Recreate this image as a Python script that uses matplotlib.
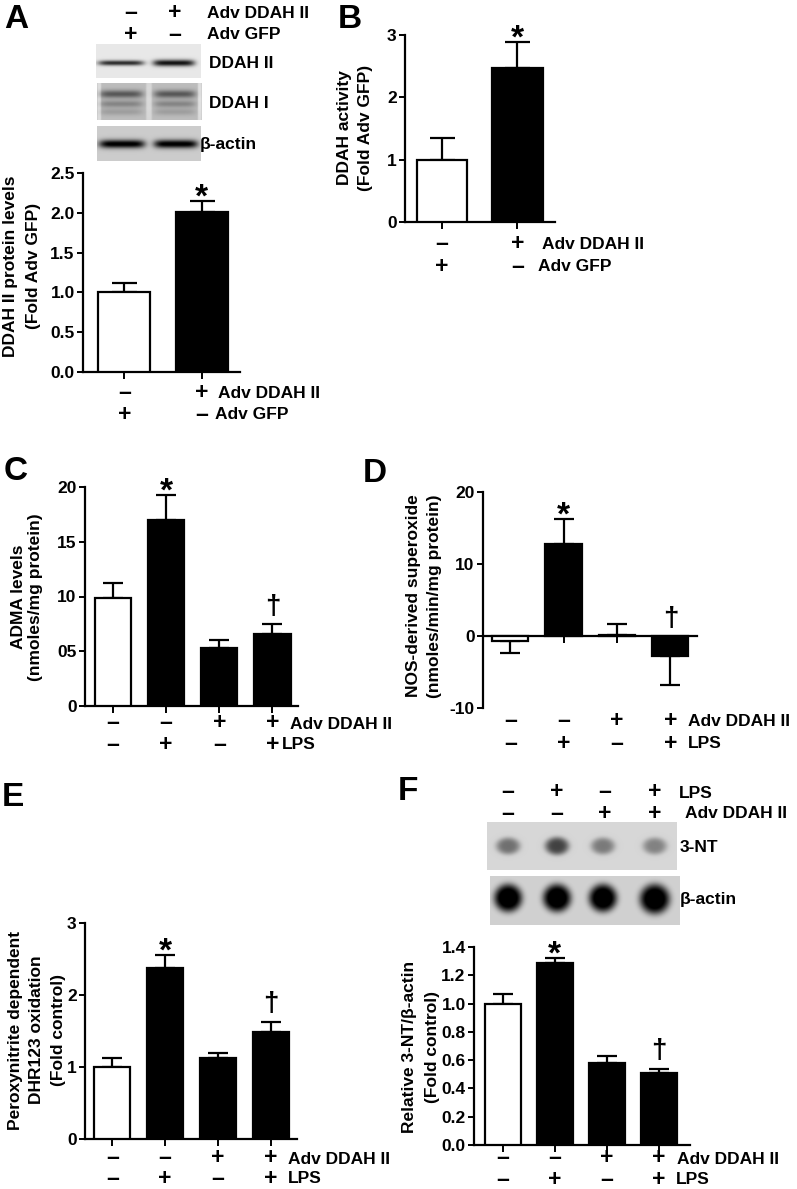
import numpy as np
import matplotlib
matplotlib.use('Agg')
import matplotlib.pyplot as plt
from matplotlib.font_manager import FontProperties

# ---------------- data ----------------
a_values = [1.0, 2.01]
a_errors = [0.12, 0.14]
a_marks = ['', '*']

b_values = [1.0, 2.47]
b_errors = [0.35, 0.41]
b_marks = ['', '*']

c_values = [9.85, 17.0, 5.3, 6.6]
c_errors = [1.4, 2.3, 0.75, 0.9]
c_marks = ['', '*', '', '†']

d_values = [-0.7, 12.8, 0.15, -2.8]
d_errors = [1.7, 3.4, 1.45, 4.0]
d_marks = ['', '*', '', '†']

e_values = [1.0, 2.38, 1.12, 1.48]
e_errors = [0.12, 0.18, 0.07, 0.15]
e_marks = ['', '*', '', '†']

f_values = [1.0, 1.29, 0.58, 0.51]
f_errors = [0.07, 0.03, 0.05, 0.03]
f_marks = ['', '*', '', '†']

two_ddah = ['–', '+']
two_gfp = ['+', '–']
four_ddah = ['–', '–', '+', '+']
four_lps = ['–', '+', '–', '+']

a_yticks = [0.0, 0.5, 1.0, 1.5, 2.0, 2.5]
a_yticklabels = ['0.0', '0.5', '1.0', '1.5', '2.0', '2.5']
b_yticks = [0, 1, 2, 3]
b_yticklabels = ['0', '1', '2', '3']
c_yticks = [0, 5, 10, 15, 20]
c_yticklabels = ['0', '05', '10', '15', '20']
d_yticks = [-10, 0, 10, 20]
d_yticklabels = ['-10', '0', '10', '20']
e_yticks = [0, 1, 2, 3]
e_yticklabels = ['0', '1', '2', '3']
f_yticks = [0.0, 0.2, 0.4, 0.6, 0.8, 1.0, 1.2, 1.4]
f_yticklabels = ['0.0', '0.2', '0.4', '0.6', '0.8', '1.0', '1.2', '1.4']

# ---------------- setup ----------------
W, H = 797, 1189
FAMILY = ['Liberation Sans', 'DejaVu Sans']
plt.rcParams['font.family'] = FAMILY
plt.rcParams['font.weight'] = 'bold'
fig = plt.figure(figsize=(W / 100, H / 100), dpi=100)
fig.patch.set_facecolor('white')
renderer = fig.canvas.get_renderer()

TICK_FS = 12.5
LAB_FS = 12.5
SIGN_FS = 16.5
LETTER_FS = 24
BASE_LS = 1.2


def px(fs):
    return fs * 100 / 72


def lp_metrics(fs):
    fp = FontProperties(family=FAMILY, weight='bold', size=fs)
    w, h, d = renderer.get_text_width_height_descent('lp', fp, ismath=False)
    return h, d


def fix_pitch(t, n_lines, target, fs, rotated=False):
    """adjust linespacing of multi-line text t (created with BASE_LS) so that
    the baseline pitch equals target pixels"""
    lp_h, lp_d = lp_metrics(fs)
    bb = t.get_window_extent(renderer)
    size = bb.width if rotated else bb.height
    pitch = (size - lp_h) / (n_lines - 1)
    if pitch > 0:
        t.set_linespacing(BASE_LS * target / pitch)


def make_axes(x0, x1, yt, yb):
    return fig.add_axes([x0 / W, 1 - yb / H, (x1 - x0) / W, (yb - yt) / H])


def ftext(x, y, s, **kw):
    kw.setdefault('fontweight', 'bold')
    kw.setdefault('linespacing', BASE_LS)
    return fig.text(x / W, 1 - y / H, s, **kw)


def ctext(x, y, s, fs, c_em=0.36, ha='left'):
    """place text so that the visual centre of its (last) line is at pixel y"""
    return ftext(x, y + c_em * px(fs), s, fontsize=fs, ha=ha, va='baseline')


def bar_panel(box, values, errors, marks, xlim, ylim, yticks, yticklabels,
              width, capsize, zero_axis=False):
    x0, x1, yt, yb = box
    ax = make_axes(x0, x1, yt, yb)
    xs = np.arange(len(values))
    colors = ['white'] + ['black'] * (len(values) - 1)
    ax.bar(xs, values, width=width, color=colors, edgecolor='black',
           linewidth=1.6, zorder=3)
    for xi, v, e in zip(xs, values, errors):
        yerr = [[0], [e]] if v >= 0 else [[e], [0]]
        ax.errorbar([xi], [v], yerr=yerr, fmt='none', ecolor='black',
                    elinewidth=1.6, capsize=capsize, capthick=1.6, zorder=2)
    for xi, v, e, m in zip(xs, values, errors, marks):
        if not m:
            continue
        top = v + e if v >= 0 else 0
        if m == '*':
            ax.annotate(m, (xi, top), xytext=(0, -9), textcoords='offset points',
                        ha='center', va='bottom', fontsize=24, fontweight='bold')
        else:
            ax.annotate(m, (xi, top), xytext=(0, 3), textcoords='offset points',
                        ha='center', va='bottom', fontsize=20, fontweight='bold')
    ax.set_xlim(*xlim)
    ax.set_ylim(*ylim)
    ax.set_yticks(yticks)
    ax.set_yticklabels(yticklabels, fontsize=TICK_FS, fontweight='bold')
    ax.set_xticks(xs)
    ax.set_xticklabels([])
    for s in ['top', 'right']:
        ax.spines[s].set_visible(False)
    for s in ['left', 'bottom']:
        ax.spines[s].set_linewidth(1.6)
    if zero_axis:
        ax.spines['bottom'].set_position(('data', 0))
    ax.tick_params(axis='y', direction='out', length=4, width=1.4, pad=2)
    ax.tick_params(axis='x', direction='out', length=5, width=1.4)
    ax.patch.set_alpha(0)
    return ax


def sign_cols(xpix_list, top, bottom, y1, y2, fs=SIGN_FS):
    """two rows of +/– signs, one two-line text per column;
    baseline alignment of a multi-line text refers to its last line"""
    for xp, s1, s2 in zip(xpix_list, top, bottom):
        t = ctext(xp, y2, s1 + '\n' + s2, fs, c_em=0.33, ha='center')
        fix_pitch(t, 2, y2 - y1, fs)


def ax_xpix(ax, box, n):
    x0, x1, yt, yb = box
    lo, hi = ax.get_xlim()
    return [x0 + (i - lo) / (hi - lo) * (x1 - x0) for i in range(n)]


def ylabel(xc, yc, s, pitch, fs=LAB_FS):
    t = ftext(xc, yc, s, fontsize=fs, rotation=90, ha='center', va='center',
              multialignment='center')
    fix_pitch(t, s.count('\n') + 1, pitch, fs, rotated=True)


def blot(x0, x1, yt, yb, bg, spots, kind='band'):
    ax = make_axes(x0, x1, yt, yb)
    nx, ny = int((x1 - x0) * 2), int((yb - yt) * 2)
    X, Y = np.meshgrid(np.linspace(x0, x1, nx), np.linspace(yt, yb, ny))
    img = np.full(X.shape, bg, dtype=float)
    for (xc, yc, hw, hh, depth) in spots:
        if kind == 'band':
            prof = np.exp(-((X - xc) / hw) ** 6) * np.exp(-((Y - yc) / hh) ** 2)
        else:
            prof = np.exp(-(((X - xc) / hw) ** 2 + ((Y - yc) / hh) ** 2) ** 2)
        img -= depth * prof
    img = np.clip(img, 0, 1)
    ax.imshow(img, cmap='gray', vmin=0, vmax=1, extent=(x0, x1, yb, yt),
              aspect='auto', interpolation='bilinear')
    ax.set_axis_off()
    return ax


# ---------------- Panel A ----------------
ftext(4, 19, 'A', fontsize=LETTER_FS, ha='left', va='center')
sign_cols([131, 175], two_ddah, two_gfp, 12, 33)
ctext(207, 12, 'Adv DDAH II', LAB_FS)
ctext(207, 33, 'Adv GFP', LAB_FS)

blot(96, 201, 44, 78, 0.91,
     [(121, 63, 23, 2.6, 0.75), (174, 63, 21, 3.3, 0.85)])
blot(97, 202, 83, 120, 0.74,
     [(121, 94, 22, 4.0, 0.40), (175, 94, 21, 4.0, 0.40),
      (121, 104, 22, 3.5, 0.22), (175, 104, 21, 3.5, 0.22),
      (121, 112, 22, 3.5, 0.12), (175, 112, 21, 3.5, 0.12),
      (149, 101, 3, 40, -0.12), (99, 101, 2, 40, -0.15), (200, 101, 2, 40, -0.15)])
blot(97, 201, 126, 161, 0.80,
     [(122, 144, 23, 4.2, 0.85), (176, 144, 22, 4.2, 0.85)])
ctext(209, 62, 'DDAH II', LAB_FS)
ctext(209, 102, 'DDAH I', LAB_FS)
ctext(200, 143, 'β-actin', LAB_FS)

boxA = (83, 240, 173, 372)
axA = bar_panel(boxA, a_values, a_errors, a_marks, (-0.53, 1.49), (0, 2.5),
                a_yticks, a_yticklabels, width=0.67, capsize=9)
ylabel(22, 266, 'DDAH II protein levels\n(Fold Adv GFP)', 23)
sign_cols(ax_xpix(axA, boxA, 2), two_ddah, two_gfp, 392, 413)
ctext(218, 392, 'Adv DDAH II', LAB_FS)
ctext(215, 413, 'Adv GFP', LAB_FS)

# ---------------- Panel B ----------------
ftext(338, 20, 'B', fontsize=LETTER_FS, ha='left', va='center')
boxB = (405, 555, 35, 222)
axB = bar_panel(boxB, b_values, b_errors, b_marks, (-0.49, 1.5), (0, 3),
                b_yticks, b_yticklabels, width=0.67, capsize=9)
ylabel(355, 128, 'DDAH activity\n(Fold Adv GFP)', 21)
sign_cols(ax_xpix(axB, boxB, 2), two_ddah, two_gfp, 243, 265)
ctext(542, 243, 'Adv DDAH II', LAB_FS)
ctext(538, 265, 'Adv GFP', LAB_FS)

# ---------------- Panel C ----------------
ftext(4, 471, 'C', fontsize=LETTER_FS, ha='left', va='center')
boxC = (85, 298, 487, 706)
axC = bar_panel(boxC, c_values, c_errors, c_marks, (-0.52, 3.48), (0, 20),
                c_yticks, c_yticklabels, width=0.68, capsize=7)
ylabel(27, 597, 'ADMA levels\n(nmoles/mg protein)', 16)
sign_cols(ax_xpix(axC, boxC, 4), four_ddah, four_lps, 723, 743)
ctext(290, 723, 'Adv DDAH II', LAB_FS)
ctext(282, 743, 'LPS', LAB_FS)

# ---------------- Panel D ----------------
ftext(363, 473, 'D', fontsize=LETTER_FS, ha='left', va='center')
boxD = (483, 697, 492, 708)
axD = bar_panel(boxD, d_values, d_errors, d_marks, (-0.51, 3.5), (-10, 20),
                d_yticks, d_yticklabels, width=0.68, capsize=7, zero_axis=True)
ylabel(424, 596, 'NOS-derived superoxide\n(nmoles/min/mg protein)', 22)
sign_cols(ax_xpix(axD, boxD, 4), four_ddah, four_lps, 720, 742)
ctext(688, 720, 'Adv DDAH II', LAB_FS)
ctext(688, 742, 'LPS', LAB_FS)

# ---------------- Panel E ----------------
ftext(2, 797, 'E', fontsize=LETTER_FS, ha='left', va='center')
boxE = (85, 297, 923, 1139)
axE = bar_panel(boxE, e_values, e_errors, e_marks, (-0.52, 3.5), (0, 3),
                e_yticks, e_yticklabels, width=0.68, capsize=7)
ylabel(37, 1030, 'Peroxynitrite dependent\nDHR123 oxidation\n(Fold control)', 22)
sign_cols(ax_xpix(axE, boxE, 4), four_ddah, four_lps, 1158, 1177)
ctext(288, 1158, 'Adv DDAH II', LAB_FS)
ctext(288, 1177, 'LPS', LAB_FS)

# ---------------- Panel F ----------------
ftext(398, 791, 'F', fontsize=LETTER_FS, ha='left', va='center')
sign_cols([508, 557, 605, 655], four_lps, four_ddah, 792, 812)
ctext(679, 792, 'LPS', LAB_FS)
ctext(685, 812, 'Adv DDAH II', LAB_FS)
blot(487, 677, 822, 870, 0.84,
     [(508, 846, 12, 8.5, 0.40), (557, 846, 12, 9, 0.58),
      (603, 846, 12, 8.5, 0.36), (655, 846, 12, 8.5, 0.33)], kind='dot')
blot(490, 680, 876, 925, 0.82,
     [(508, 898, 14, 14, 0.95), (557, 898, 14, 14, 0.95),
      (603, 898, 14, 14, 0.95), (655, 899, 15, 15, 0.95)], kind='dot')
ctext(680, 846, '3-NT', LAB_FS)
ctext(680, 898, 'β-actin', LAB_FS)

boxF = (474, 690, 947, 1145)
axF = bar_panel(boxF, f_values, f_errors, f_marks, (-0.55, 3.6), (0, 1.4),
                f_yticks, f_yticklabels, width=0.69, capsize=7)
ylabel(421, 1047, 'Relative 3-NT/β-actin\n(Fold control)', 23)
sign_cols(ax_xpix(axF, boxF, 4), four_ddah, four_lps, 1158, 1178)
ctext(677, 1158, 'Adv DDAH II', LAB_FS)
ctext(676, 1178, 'LPS', LAB_FS)

fig.savefig('out.png', dpi=100, facecolor='white')
